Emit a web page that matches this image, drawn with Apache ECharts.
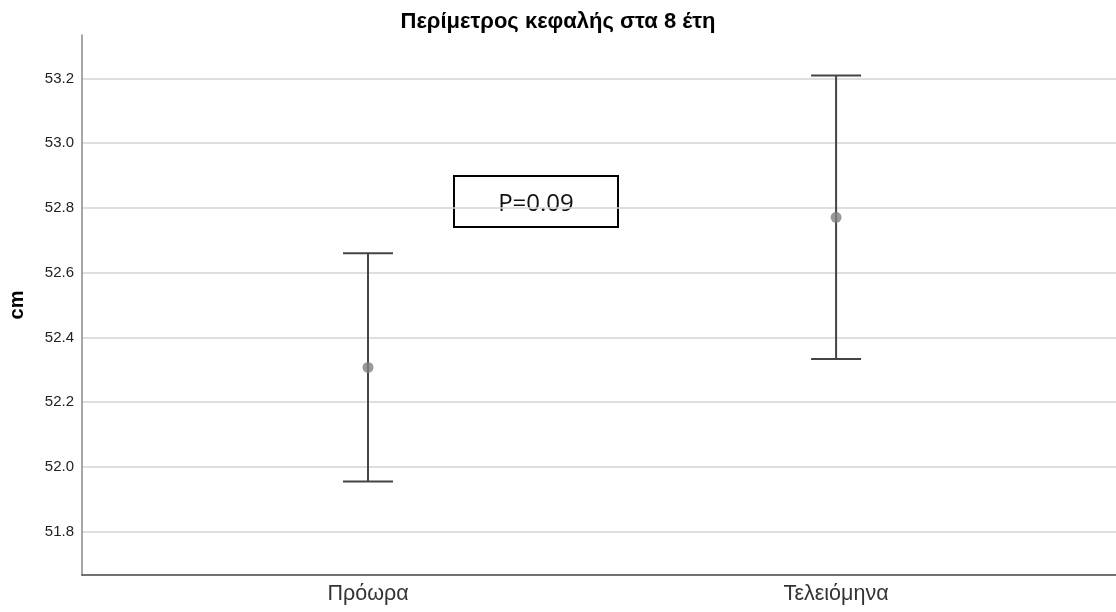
<!DOCTYPE html>
<html>
<head>
<meta charset="utf-8">
<script src="https://cdn.jsdelivr.net/npm/echarts@6/dist/echarts.min.js"></script>
<style>html,body{margin:0;padding:0;background:#fff}#c{width:1116px;height:612px}</style>
</head>
<body>
<div id="c"></div>
<script>
var categories = ['Πρόωρα', 'Τελειόμηνα'];
var means = [52.307, 52.771];
var lower = [51.955, 52.333];
var upper = [52.660, 53.209];
var yTicks = [51.8, 52.0, 52.2, 52.4, 52.6, 52.8, 53.0, 53.2];
var annotation = 'P=0.09';

var chart = echarts.init(document.getElementById('c'), null, {renderer: 'canvas'});
var catPos = categories.map(function (c, i) { return i + 1; });
var errData = categories.map(function (c, i) { return [catPos[i], lower[i], upper[i]]; });
var meanData = categories.map(function (c, i) { return [catPos[i], means[i]]; });

chart.setOption({
  animation: false,
  title: {
    text: 'Περίμετρος κεφαλής στα 8 έτη',
    left: 'center', top: 6,
    textStyle: {fontFamily: 'Liberation Sans', fontSize: 22, fontWeight: 'bold', color: '#000'}
  },
  grid: {left: 82, right: 0, top: 35, bottom: 37, outerBoundsMode: 'none', containLabel: false},
  xAxis: {
    type: 'value', min: 0.389, max: 2.598,
    axisLine: {show: true, onZero: false, lineStyle: {color: '#444', width: 1.5}},
    axisTick: {show: false},
    splitLine: {show: false},
    axisLabel: {
      customValues: catPos,
      margin: 8,
      fontFamily: 'Liberation Sans', fontSize: 21.5, color: '#333',
      formatter: function (v) { return categories[Math.round(v) - 1] || ''; }
    }
  },
  yAxis: {
    type: 'value', min: 51.666, max: 53.334,
    name: 'cm', nameLocation: 'middle', nameGap: 55, nameRotate: 90,
    nameTextStyle: {fontFamily: 'Liberation Sans', fontSize: 20, fontWeight: 'bold', color: '#000'},
    axisLine: {show: true, lineStyle: {color: '#888', width: 1.5}},
    axisTick: {show: false, customValues: yTicks},
    splitLine: {show: true, lineStyle: {color: '#d4d4d4', width: 1.5}},
    axisLabel: {
      customValues: yTicks, margin: 8,
      fontFamily: 'Liberation Sans', fontSize: 15, color: '#222',
      formatter: function (v) { return v.toFixed(1); }
    }
  },
  series: [
    {
      type: 'custom',
      data: errData,
      renderItem: function (params, api) {
        var x = api.value(0);
        var lo = api.coord([x, api.value(1)]);
        var hi = api.coord([x, api.value(2)]);
        var hw = 25;
        var st = {stroke: '#444', lineWidth: 2};
        return {
          type: 'group',
          children: [
            {type: 'line', shape: {x1: lo[0], y1: lo[1], x2: hi[0], y2: hi[1]}, style: st},
            {type: 'line', shape: {x1: hi[0] - hw, y1: hi[1], x2: hi[0] + hw, y2: hi[1]}, style: st},
            {type: 'line', shape: {x1: lo[0] - hw, y1: lo[1], x2: lo[0] + hw, y2: lo[1]}, style: st}
          ]
        };
      },
      z: 2
    },
    {
      type: 'scatter',
      data: meanData,
      symbol: 'circle', symbolSize: 11,
      itemStyle: {color: '#808080'},
      z: 3
    }
  ],
  graphic: [{
    type: 'group', left: 453, top: 175,
    children: [
      {type: 'rect', shape: {x: 0, y: 0, width: 164, height: 51}, style: {fill: '#fff', stroke: '#000', lineWidth: 2}},
      {type: 'text', x: 82, y: 28, style: {text: annotation, fontFamily: 'Open Sans', fontSize: 24, fill: '#111', align: 'center', verticalAlign: 'middle'}}
    ]
  }]
});
</script>
</body>
</html>
